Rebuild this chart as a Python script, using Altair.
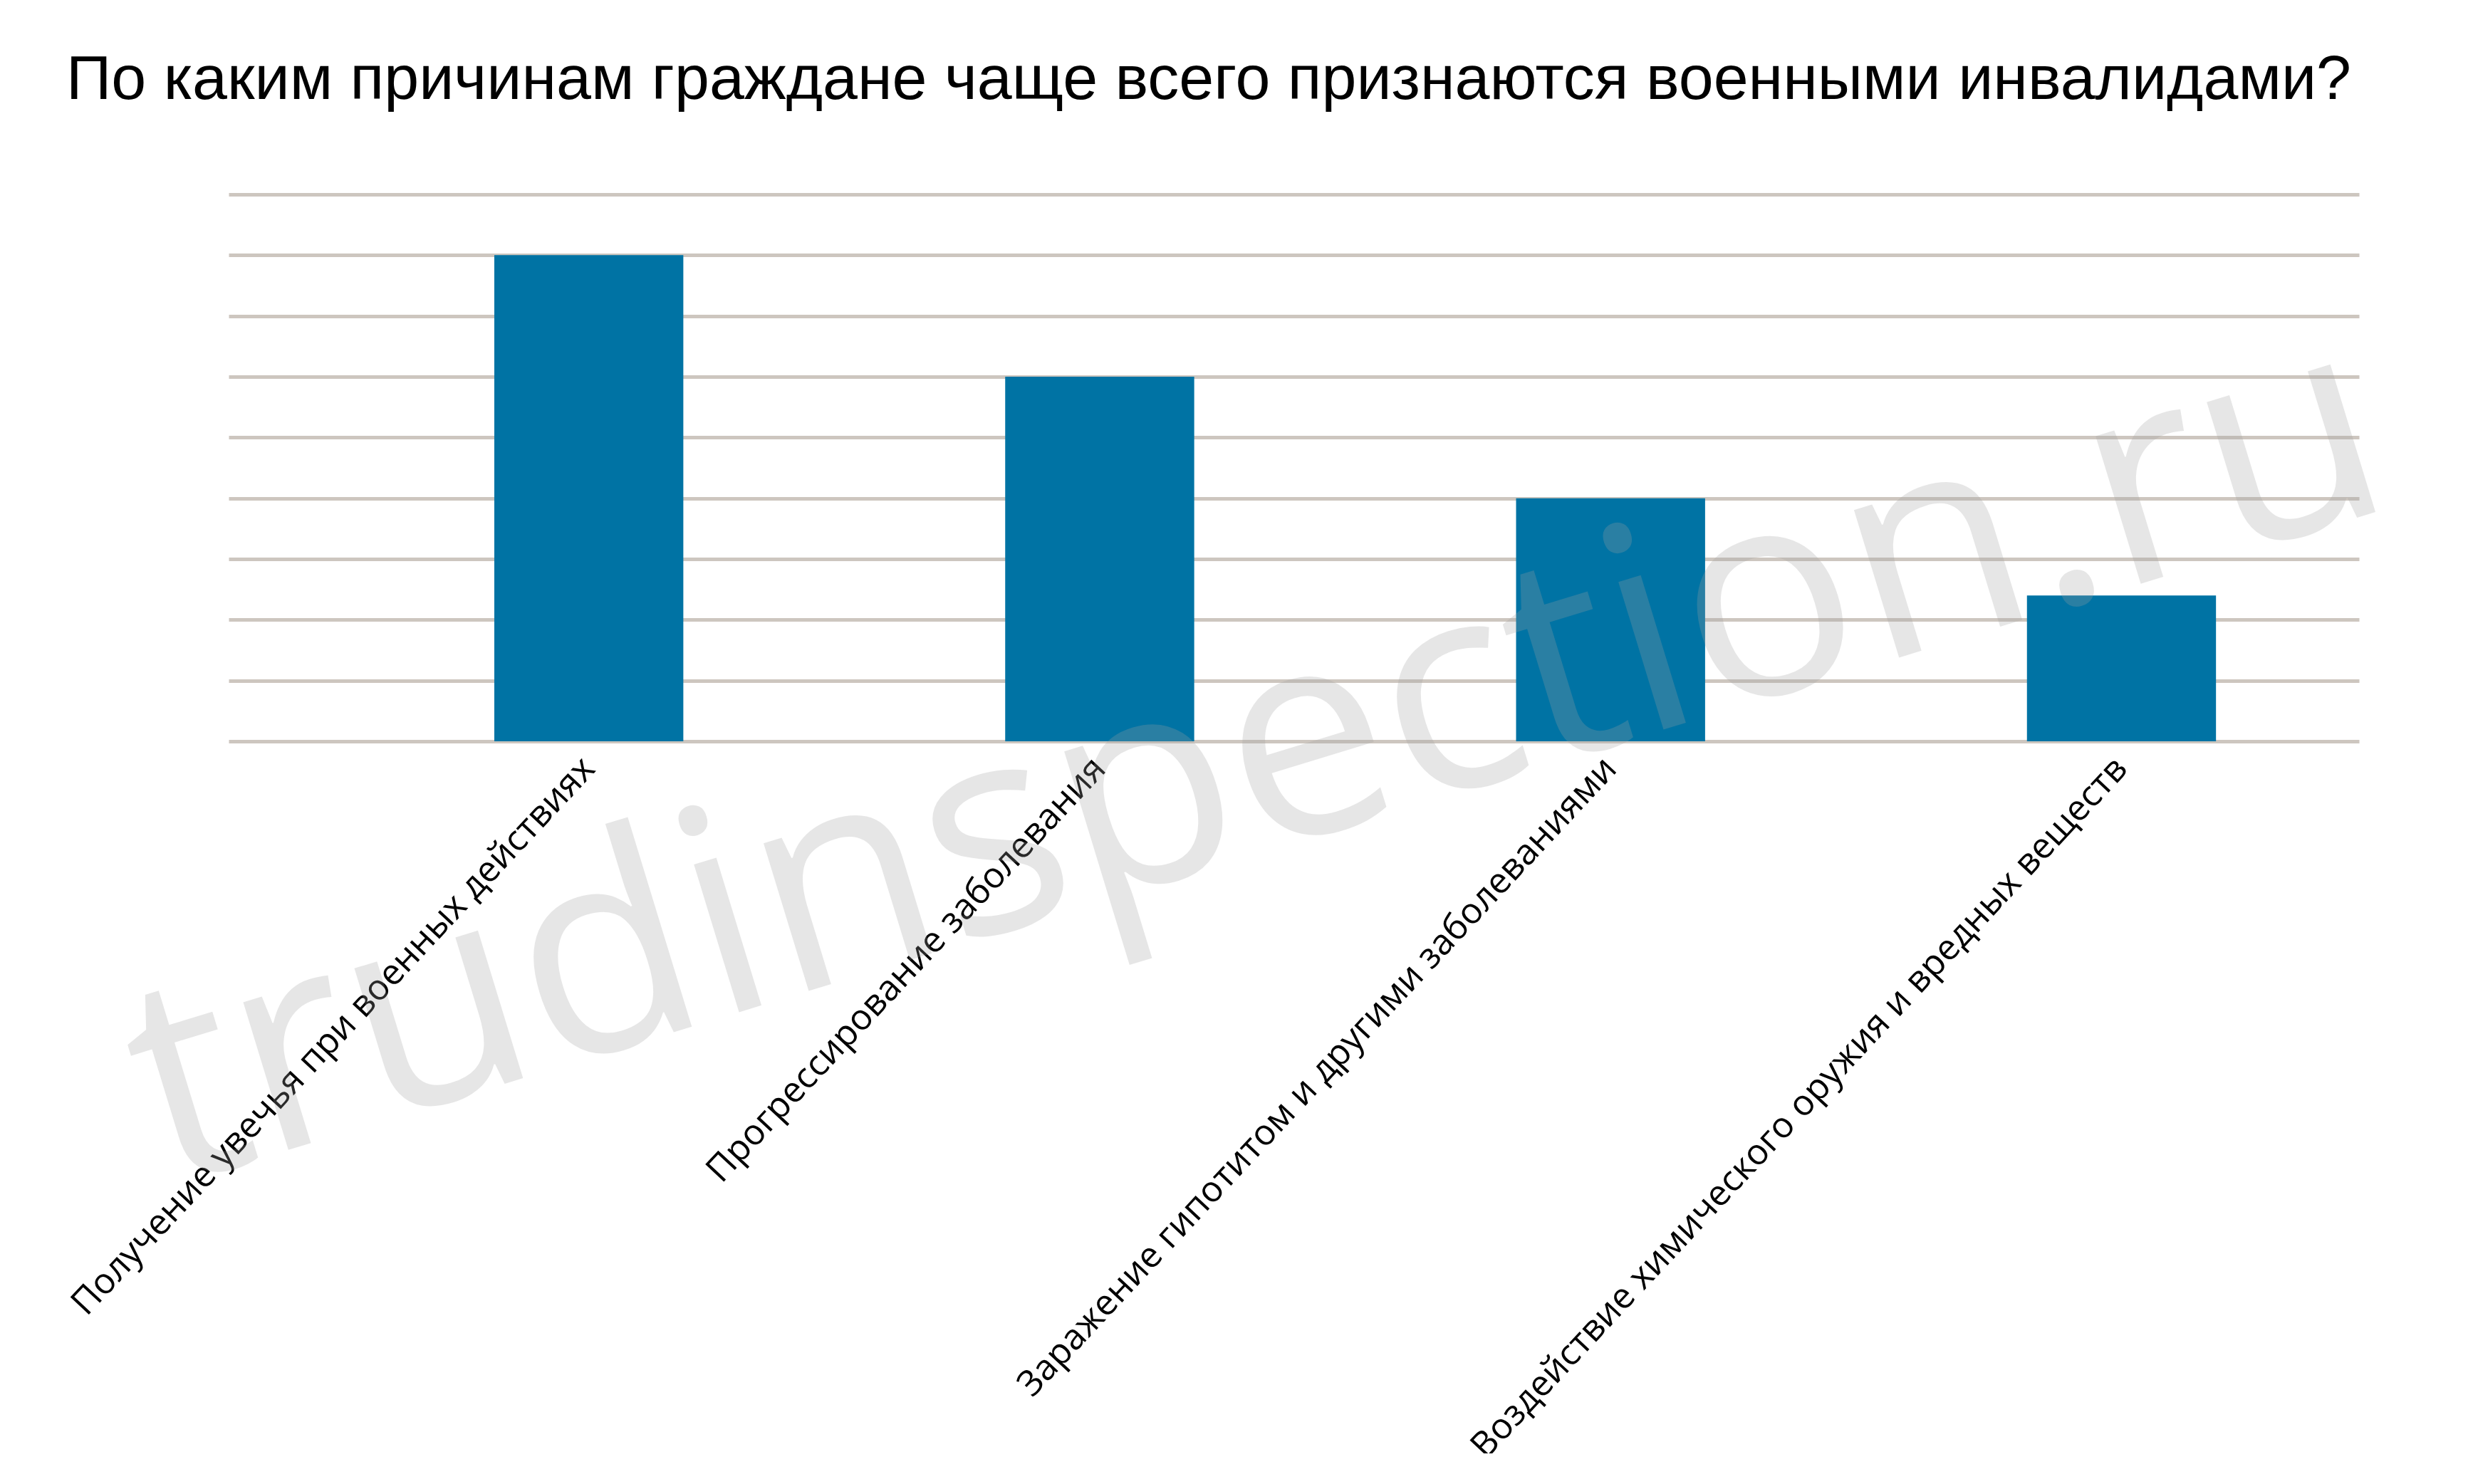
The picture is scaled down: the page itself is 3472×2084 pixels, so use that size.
import altair as alt
import pandas as pd

title_text = "По каким причинам граждане чаще всего признаются военными инвалидами?"
categories = [
    "Получение увечья при военных действиях",
    "Прогрессирование заболевания",
    "Заражение гипотитом и другими заболеваниями",
    "Воздействие химического оружия и вредных веществ",
]
values = [8, 6, 4, 2.4]
grid_values = [0, 1, 2, 3, 4, 5, 6, 7, 8, 9]
watermark = ["trudinspection.ru"]

df = pd.DataFrame({"cat": categories, "val": values})
wm = pd.DataFrame({"wm": watermark})

bars = alt.Chart(df).mark_bar(color="#0073a4").encode(
    x=alt.X(
        "cat:N",
        sort=categories,
        scale=alt.Scale(paddingInner=0.63, paddingOuter=0.4, align=0.65),
        axis=alt.Axis(
            title=None, domain=False, ticks=False, labelAngle=313,
            labelAlign="right", labelBaseline="middle",
            labelFont="Open Sans", labelFontSize=50, labelColor="#000000",
            labelPadding=30, labelLimit=3000,
        ),
    ),
    y=alt.Y(
        "val:Q",
        scale=alt.Scale(domain=[0, 9], nice=False),
        axis=alt.Axis(
            title=None, domain=False, ticks=False, labels=False,
            values=grid_values, grid=True, gridColor="#cdc6bf", gridWidth=5,
        ),
    ),
)

mark_wm = alt.Chart(wm).mark_text(
    angle=343, fontSize=405, font="Open Sans",
    color="#a1a1a1", opacity=0.26, align="center", baseline="alphabetic",
).encode(
    text="wm:N",
    x=alt.value(1480),
    y=alt.value(915),
)

chart = alt.layer(bars, mark_wm).properties(
    width=2991,
    height=768,
    autosize=alt.AutoSizeParams(type="none"),
    padding={"left": 313, "top": 265, "right": 152, "bottom": 1000},
    title=alt.TitleParams(
        text=title_text, anchor="start", frame="group", dx=-228,
        offset=46, baseline="alphabetic",
        font="Liberation Sans", fontSize=88, fontWeight="normal",
        color="#000000",
    ),
).configure(background="#ffffff").configure_view(stroke=None)

chart.save("out.html", embed_options={"renderer": "svg", "actions": False})
